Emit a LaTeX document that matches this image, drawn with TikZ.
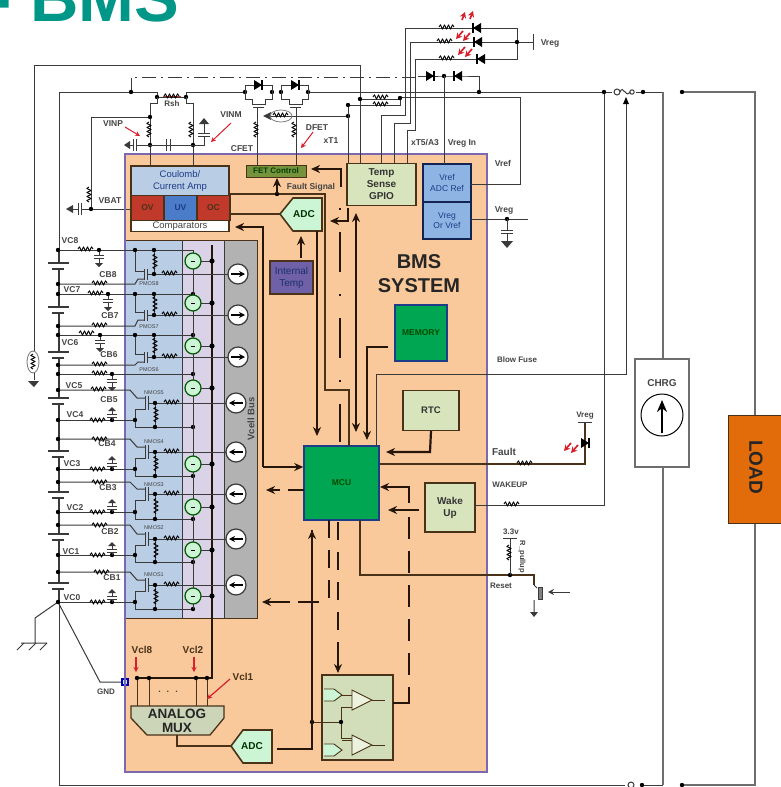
\documentclass[tikz,border=0pt]{standalone}
\usepackage{fontspec}
\setmainfont{Liberation Sans}
\usetikzlibrary{arrows.meta,calc}
\definecolor{orng}{HTML}{F9C89B}
\definecolor{purp}{HTML}{7B68B0}
\definecolor{wirec}{HTML}{3A3A3A}
\definecolor{grayw}{HTML}{6E6E6E}
\definecolor{brn}{HTML}{4A3218}
\definecolor{busc}{HTML}{26160A}
\definecolor{lt}{HTML}{B9CDE5}
\definecolor{lilac}{HTML}{DAD2E6}
\definecolor{gr}{HTML}{B2B2B2}
\definecolor{sage}{HTML}{D8E4BC}
\definecolor{mblue}{HTML}{8DB4E2}
\definecolor{grn}{HTML}{00A651}
\definecolor{navy}{HTML}{1F3C88}
\definecolor{redb}{HTML}{C0392B}
\definecolor{blub}{HTML}{4A7CC9}
\definecolor{mint}{HTML}{CCF5D6}
\definecolor{olive}{HTML}{76923C}
\definecolor{iviol}{HTML}{7060A8}
\definecolor{lab}{HTML}{444444}
\definecolor{teal}{HTML}{009688}
\definecolor{ledr}{HTML}{D8202C}
\definecolor{loadc}{HTML}{E36C0A}
\newcommand\fs[1]{\pgfmathsetmacro\fsskip{#1*1.2}\fontsize{#1}{\fsskip}\selectfont}
\tikzset{
 wire/.style={line width=1pt,draw=wirec},
 gwire/.style={line width=1.5pt,draw=grayw},
 bwire/.style={line width=1.1pt,draw=brn},
 bus/.style={line width=2.2pt,draw=busc},
 arr/.style={-{Stealth[length=9pt,width=8pt]}},
 arrb/.style={{Stealth[length=9pt,width=8pt]}-{Stealth[length=9pt,width=8pt]}},
 sm/.style={-{Stealth[length=6pt,width=6pt]}},
 rarr/.style={draw=ledr,line width=1pt,-{Stealth[length=5pt,width=5pt]}},
 larr/.style={draw=ledr,line width=1.7pt,-{Stealth[length=6pt,width=6.5pt]}},
 res/.style={line width=.9pt,draw=black,line join=round},
 lbl/.style={font=\bfseries\fs{8.5},text=lab,inner sep=0pt},
 blockn/.style={draw=brn,line width=1.3pt,inner sep=0pt,align=center},
 tinyl/.style={font=\fs{5.5},text=lab,inner sep=0pt},
}
\newcommand\ResH[2]{\draw[res] (#1,#2) ++(-8,0) -- ++(1.5,-2.2) -- ++(2,4.4) -- ++(2,-4.4) -- ++(2,4.4) -- ++(2,-4.4) -- ++(2,4.4) -- ++(2,-4.4) -- ++(1.5,2.2);}
\newcommand\ResV[2]{\draw[res] (#1,#2) ++(0,-8) -- ++(-2.2,1.5) -- ++(4.4,2) -- ++(-4.4,2) -- ++(4.4,2) -- ++(-4.4,2) -- ++(4.4,2) -- ++(-4.4,2) -- ++(2.2,1.5);}
\newcommand\Dt[2]{\fill[black] (#1,#2) circle (2.2pt);}
\newcommand\CapD[2]{\draw[wire] (#1,#2) -- ++(0,5) ++(-5,0) -- ++(10,0) ++(-10,3) -- ++(10,0) ++(-5,0) -- ++(0,5); \fill[wirec] (#1,#2) ++(-4,13) -- ++(8,0) -- ++(-4,4) -- cycle;}
\newcommand\CapU[2]{\draw[wire] (#1,#2) -- ++(0,-3) ++(-5,0) -- ++(10,0) ++(-10,-3) -- ++(10,0) ++(-5,0) -- ++(0,-3); \fill[wirec] (#1,#2) ++(-4,-9) -- ++(8,0) -- ++(-4,-4) -- cycle;}
\newcommand\DioL[2]{\fill[black] (#1,#2) ++(-4,0) -- ++(8,-5) -- ++(0,10) -- cycle; \draw[line width=1.3pt] (#1,#2) ++(-4,-5) -- ++(0,10);}
\newcommand\DioR[2]{\fill[black] (#1,#2) ++(4,0) -- ++(-8,-5) -- ++(0,10) -- cycle; \draw[line width=1.3pt] (#1,#2) ++(4,-5) -- ++(0,10);}
\newcommand\Leds[2]{\draw[larr] (#1,#2) ++(5,-5) -- ++(-7,8); \draw[larr] (#1,#2) ++(12,-3) -- ++(-7,8);}
\newcommand\LedsU[2]{\draw[larr] (#1,#2) ++(0,5) -- ++(3,-8); \draw[larr] (#1,#2) ++(8,4) -- ++(3,-8);}
\begin{document}
\begin{tikzpicture}[x=1pt,y=-1pt]
\useasboundingbox (0,0) rectangle (780,787);
\fill[white] (0,0) rectangle (780,787);
\begin{scope}
\clip (0,0) rectangle (780,787);
\node[anchor=base west,inner sep=0pt,text=teal,font=\bfseries\fs{67}] (title) at (-11,21) {- BMS};
\end{scope}

% ---------- main frame
\node[draw=purp,line width=1.4pt,fill=orng,inner sep=0pt,minimum width=362pt,minimum height=618pt] (bms) at (306,463) {};

% ---------- cell block
\fill[lt] (126,240) rectangle (182,618);
\fill[lilac] (182,240) rectangle (224,618);
\fill[gr] (224,240) rectangle (257,618);
\draw[brn,line width=1pt] (126,240) -- (257,240) -- (257,618) -- (126,618);
\draw[wirec,line width=.9pt] (182,240) -- (182,618) (224,240) -- (224,618);
\node[lbl,font=\bfseries\fs{9.5},rotate=90] (vcellbus) at (251,419) {Vcell Bus};

% ---------- blocks
\node[blockn,fill=lt,minimum width=98pt,minimum height=30pt,text=navy,font=\fs{9.5}] (coul) at (180,181) {Coulomb/\\Current Amp};
\node[blockn,fill=redb,minimum width=33pt,minimum height=25pt,text=brn,font=\bfseries\fs{8.5}] (ov) at (147.5,208) {OV};
\node[blockn,fill=blub,minimum width=33pt,minimum height=25pt,text=navy,font=\bfseries\fs{8.5}] (uv) at (180.5,208) {UV};
\node[blockn,fill=redb,minimum width=33pt,minimum height=25pt,text=brn,font=\bfseries\fs{8.5}] (oc) at (213.5,208) {OC};
\node[blockn,fill=white,minimum width=98pt,minimum height=11pt,text=lab,font=\fs{9.5}] (comps) at (180,226) {Comparators};
\node[draw=brn,line width=1pt,fill=olive,minimum width=60pt,minimum height=12pt,inner sep=0pt,text=green!25!black,font=\bfseries\fs{8}] (fetc) at (276,171) {FET Control};
\node[blockn,fill=sage,minimum width=69pt,minimum height=42pt,text=black!80,font=\bfseries\fs{10}] (temp) at (381.5,184.5) {Temp\\Sense\\GPIO};
\node[blockn,fill=mblue,minimum width=48pt,minimum height=38pt,text=navy,font=\fs{8.5},draw=navy!60!black] (vref) at (447,183) {Vref\\ADC Ref};
\node[blockn,fill=mblue,minimum width=48pt,minimum height=37pt,text=navy,font=\fs{8.5},draw=navy!60!black] (vreg) at (447,220.5) {Vreg\\Or Vref};
\node[blockn,fill=iviol,minimum width=43pt,minimum height=33pt,text=navy!80!black,font=\fs{10}] (itemp) at (291.5,277.5) {Internal\\Temp};
\node[draw=navy,line width=1.4pt,fill=grn,minimum width=52pt,minimum height=56pt,inner sep=0pt,text=green!30!black,font=\bfseries\fs{8.5}] (mem) at (421,333) {MEMORY};
\node[draw=navy,line width=1.6pt,fill=grn,minimum width=75pt,minimum height=74pt,inner sep=0pt,text=green!30!black,font=\bfseries\fs{8.5}] (mcu) at (341.5,483) {MCU};
\node[blockn,fill=sage,minimum width=56pt,minimum height=40pt,text=black!80,font=\bfseries\fs{9.5}] (rtc) at (431,410.5) {RTC};
\node[blockn,fill=sage,minimum width=50pt,minimum height=49pt,text=black!80,font=\bfseries\fs{10}] (wake) at (450,507.5) {Wake\\Up};
\node[inner sep=0pt,align=center,text=black!85,font=\bfseries\fs{20}] (sys) at (419,274) {BMS\\SYSTEM};

% ADC pentagons and mux
\draw[brn,line width=1.6pt,fill=mint] (280,214) -- (293,198) -- (322,198) -- (322,231) -- (293,231) -- cycle;
\node[inner sep=0pt,text=green!20!black,font=\bfseries\fs{10}] (adct) at (304,214) {ADC};
\draw[brn,line width=1.6pt,fill=mint] (231,746) -- (243,730) -- (272,730) -- (272,763) -- (243,763) -- cycle;
\node[inner sep=0pt,text=green!20!black,font=\bfseries\fs{10}] (adcb) at (252,746) {ADC};
\draw[brn,line width=1.3pt,fill=sage!70!gr] (131,706) -- (224,706) -- (224,718) -- (210,735) -- (147,735) -- (131,718) -- cycle;
\node[inner sep=0pt,align=center,text=black!85,font=\bfseries\fs{13.5}] (mux) at (177,721) {ANALOG\\[-2pt]MUX};

% comparator block
\node[blockn,fill=sage!85!gr,minimum width=71pt,minimum height=85pt] (cmpb) at (357.5,717.5) {};
\foreach \yy in {689,744}{
 \draw[brn,line width=.9pt,fill=mint] (324,\yy) -- (334,\yy) -- (342,\yy+6) -- (334,\yy+12) -- (324,\yy+12);
}
\foreach \yy in {700,745}{
 \draw[brn,line width=.9pt,fill=sage!50] (352,\yy-10) -- (352,\yy+10) -- (372,\yy) -- cycle;
 \draw[brn,line width=.9pt] (372,\yy) -- (385,\yy) (342,\yy-5) -- (352,\yy-5);
}
\draw[brn,line width=.9pt] (312,722) -- (341,722) (341,707) -- (341,738) (341,707) -- (352,707) (341,738) -- (352,738);
\Dt{341}{722}
\Dt{312}{722}

% ---------- external top wires
\draw[wire] (34,380) -- (34,65) -- (360,65) -- (360,163);
\draw[wire,dash pattern=on 14pt off 5pt on 2pt off 5pt] (131,92) -- (131,77) -- (418,77);
\draw[wire] (418,76) -- (458,76) -- (479,76) -- (479,91);
\draw[wire] (59,785) -- (59,92) -- (157,92) -- (157,97) (157,97) -- (186,97) -- (186,92) -- (245,92);
\draw[wire] (308,92) -- (604,92);
\draw[wire] (604,92) -- (612,92) (636,92) -- (663,92);
\draw[gwire] (663,92) -- (663,359) (663,467) -- (663,785);
\draw[gwire] (682,92) -- (755,92) -- (755,415) (755,523) -- (755,785) -- (682,785);
\draw[wire] (59,785) -- (625,785) (642,785) -- (663,785);
\draw[wire] (604,92) -- (604,505) -- (475,505);
\draw[wire] (376,446) -- (376,374) -- (626,374) -- (626,100);
\fill[black] (626,97) -- (623,104) -- (629,104) -- cycle;
\draw[wire,fill=white] (617,92) circle (3pt);
\draw[wire,fill=white] (632,92) circle (2.2pt);
\draw[wire] (620,92) .. controls (623,84) and (626,99) .. (630,92);
\draw[wire,fill=white] (631,785) circle (3pt);
\Dt{131}{92}\Dt{157}{97}\Dt{186}{97}\Dt{245}{92}\Dt{272}{92}\Dt{281}{92}\Dt{308}{92}\Dt{479}{92}\Dt{604}{92}\Dt{643}{92}\Dt{682}{92}\Dt{444}{76}\Dt{642}{785}\Dt{682}{785}
\DioR{430}{76}
\DioL{458}{76}

% shunt and amp inputs
\draw[draw=redb,line width=.8pt] (163,96) -- (181,96);
\ResH{172}{96}
\node[lbl,font=\bfseries\fs{8}] (rsh) at (172,104) {Rsh};
\draw[wire] (157,97) -- (157,103) -- (150,103) -- (150,166);
\draw[wire] (186,97) -- (186,103) -- (193,103) -- (193,166);
\ResV{149}{130}
\ResV{191}{130}
\draw[wire] (150,117) -- (91,117) -- (91,209) -- (131,209) (91,209) -- (82,209);
\Dt{150}{117}\Dt{150}{145}\Dt{193}{145}\Dt{91}{209}
\ResV{89}{195}
\draw[wire] (136,145) -- (204,145) -- (204,136);
\draw[wire] (166,139) -- (166,151) (170,139) -- (170,151);
\draw[wire] (198,136) -- (210,136) (198,133) -- (210,133) (204,133) -- (204,124);
\fill[wirec] (204,118) -- (199,124) -- (209,124) -- cycle;
\draw[wire] (136,139) -- (136,151) (133,139) -- (133,151) (133,145) -- (130,145);
\fill[wirec] (124,145) -- (130,141) -- (130,149) -- cycle;
\draw[wire] (81,203) -- (81,215) (78,203) -- (78,215) (78,209) -- (73,209);
\fill[wirec] (66,209) -- (73,205) -- (73,213) -- cycle;
\node[lbl] (vinp) at (113,124) {VINP};
\draw[rarr] (125,127) -- (140,136);
\node[lbl] (vinm) at (231,115) {VINM};
\draw[rarr] (231,123) -- (211,142);
\node[lbl] (vbat) at (110,201) {VBAT};
\node[lbl] (cfet) at (242,149) {CFET};
\node[lbl] (dfet) at (317,128) {DFET};
\draw[rarr] (313,132) -- (301,148);
\node[lbl] (xt1) at (331,141) {xT1};

% FET pair
\foreach \fl/\fr/\fm in {245/272/258,281/308/295}{
 \draw[wire] (\fl,92) -- (\fl,85) -- (\fr,85) -- (\fr,92);
 \DioR{\fm}{85}
 \draw[wire] (\fl,92) -- (\fl,99) -- (\fm-6,99) -- (\fm-6,104) -- (\fm+1,104);
 \draw[wire] (\fr,92) -- (\fr,99) -- (\fm+7,99) -- (\fm+7,104) -- (\fm+1,104);
 \draw[wire] (\fm-5,107) -- (\fm+6,107);
}
\draw[wire] (257,107) -- (257,165) (296,107) -- (296,165);
\ResV{256}{130}
\ResV{294}{130}
\draw[wire] (348,116) -- (271,116);
\fill[wirec] (263,116) -- (271,112) -- (271,120) -- cycle;
\ResH{281}{115}
\draw[gray,line width=.8pt] (281,116) ellipse (11pt and 6pt);
\Dt{348}{116}

% wires to temp block
\draw[wire] (348,163) -- (348,105) -- (400,105) -- (400,97) (360,99) -- (400,99) (400,97) -- (520,97) -- (520,184) -- (471,184);
\Dt{348}{105}\Dt{360}{99}\Dt{400}{98}
\ResH{381}{97}
\ResH{381}{104}
\draw[wire] (381,163) -- (381,115) -- (405,115) -- (405,28) -- (517,28) -- (517,59) -- (415,59) -- (415,130) -- (407,130) -- (407,163);
\draw[wire] (394,163) -- (394,123) -- (410,123) -- (410,42) -- (533,42);
\draw[wire] (533,34) -- (533,50);
\Dt{517}{42}
\ResH{447}{27}
\ResH{445}{41}
\ResH{447}{58}
\DioL{477}{28}
\DioL{478}{42}
\DioL{481}{59}
\LedsU{462}{15}
\Leds{458}{36}
\Leds{460}{52}
\node[lbl] (vreg1) at (550,43) {Vreg};
\draw[wire] (444,76) -- (444,164);
\node[lbl] (xt5) at (425,143) {xT5/A3};
\node[lbl] (vregin) at (462,143) {Vreg In};
\node[lbl] (vrefl) at (503,163) {Vref};
\draw[wire] (471,219) -- (528,219);
\node[lbl] (vreg2) at (504,210) {Vreg};
\Dt{507}{219}
\draw[wire] (507,219) -- (507,230) (501,230) -- (513,230) (501,233) -- (513,233) (507,233) -- (507,241);
\fill[wirec] (501,241) -- (513,241) -- (507,248) -- cycle;

% ---------- inner bus wires
\coordinate (fetin) at (311,169);
\coordinate (cmpin) at (235,227);
\draw[bwire] (229,194) -- (325,194) -- (325,390) -- (349,390) -- (349,446);
\draw[bwire] (229,214) -- (280,214);
\Dt{277}{194}
\draw[bus,arr,line width=1.4pt] (277,194) -- (277,178);
\node[lbl] (fsig) at (311,187) {Fault Signal};
\draw[bus,arr] (341,187) -- (341,169) -- (fetin);
\draw[bus,arr] (263,467) -- (263,227) -- (cmpin);
\draw[bus,arr] (263,467) -- (mcu.west |- 0,467);
\draw[bus,arr,line width=1.8pt] (301,258) -- (301,236);
\draw[bus,arr] (317,231) -- (317,436);
\draw[bus,arrb] (356,213) -- (356,432);
\draw[bus,dash pattern=on 40pt off 22pt on 2pt off 22pt] (340,232) -- (340,442);
\draw[bus,line width=1.5pt] (340,208) -- (340,209.5);
\draw[bus,arr] (348,208) -- (348,221) -- (330,221);
\draw[bus,arr] (388,347) -- (367,347) -- (367,440);
\draw[bus,arr] (rtc.south) -- (430,452) -- (386,452);
\draw[bus,arr] (419,510) -- (388,510);
\draw[bwire] (380,464) -- (585,464) -- (585,422);
\ResH{525}{463}
\DioR{585}{443}
\draw[wire] (578,422) -- (592,422);
\Leds{566}{448}
\node[lbl,font=\bfseries\fs{8}] (vreg3) at (585,416) {Vreg};
\node[lbl,font=\bfseries\fs{10}] (fault) at (504,452) {Fault};
\node[lbl,font=\bfseries\fs{8}] (wakel) at (510,485) {WAKEUP};
\node[lbl,font=\bfseries\fs{8}] (blow) at (517,360) {Blow Fuse};
\ResH{512}{504}
% reset
\draw[bwire] (360,520) -- (360,575) -- (534,575) -- (534,585);
\Dt{510}{575}
\draw[wire] (510,575) -- (510,538) (503,538) -- (517,538);
\ResV{509}{553}
\node[lbl,font=\bfseries\fs{8}] (v33) at (511,532) {3.3v};
\node[lbl,font=\bfseries\fs{7.5},rotate=-90] (rpu) at (522,557) {R\_pullup};
\node[lbl,font=\bfseries\fs{8}] (reset) at (501,586) {Reset};
\draw[wire] (534,585) -- (537,588) (534,600) -- (534,612);
\draw[draw=wirec,fill=gray,line width=.8pt] (538,587) rectangle (542,599);
\fill[wirec] (530,612) -- (538,612) -- (534,617) -- cycle;
\draw[wire,sm] (570,592) -- (548,592);
% dashed
\draw[bus,dash pattern=on 18pt off 12pt] (329,520) -- (329,602);
\draw[bus] (319,602) -- (298,602);
\draw[bus,arr] (290,602) -- (262,602);
\draw[bus,dash pattern=on 18pt off 12pt] (338,522) -- (338,655);
\draw[bus,arr] (338,650) -- (338,673);
\draw[bus,dash pattern=on 16pt off 9pt] (304,490) -- (286,490);
\draw[bus,arr] (280,490) -- (266,490);
\draw[bus,arr] (409,503) -- (409,487) -- (380,487);
\draw[bus,dash pattern=on 22pt off 12pt] (409,517) -- (409,703);
\draw[bus] (393,703) -- (410,703);
\draw[bus] (312,530) -- (312,749) -- (277,749);
\draw[bus,arr] (312,545) -- (312,530);
% mux bus
\draw[bus,line width=2.6pt] (212,245) -- (212,678) -- (136,678);
\foreach \xx in {137,149,196,207}{\draw[wire,draw=brn] (\xx,678) -- (\xx,706); \Dt{\xx}{678}}
\node[text=lab,font=\bfseries\fs{9},inner sep=0pt] (dots) at (168,692) {.\hspace{6pt}.\hspace{6pt}.};
\draw[bwire] (177,735) -- (177,746) -- (231,746);
\node[lbl,text=brn,font=\bfseries\fs{10}] (vcl8) at (142,650) {Vcl8};
\draw[rarr,line width=1.2pt] (136,657) -- (136,672);
\node[lbl,text=brn,font=\bfseries\fs{10}] (vcl2) at (193,650) {Vcl2};
\draw[rarr,line width=1.2pt] (194,657) -- (194,672);
\node[lbl,text=brn,font=\bfseries\fs{10}] (vcl1) at (243,677) {Vcl1};
\draw[rarr,line width=1.2pt] (230,679) -- (207,699);
% ground
\draw[wire] (58,602) -- (100,682) -- (122,682);
\draw[draw=blue!70!black,line width=1.2pt,fill=cyan!25] (122,679) rectangle (128,685);
\node[lbl,font=\bfseries\fs{8}] (gndl) at (106,692) {GND};
\draw[wire] (58,602) -- (35,618) -- (35,643) (21,643) -- (47,643);
\draw[wire] (24,643) -- (17,650) (36,643) -- (29,650) (47,643) -- (40,650);

% ---------- battery stack
\draw[wire] (58,250) -- (58,602);
\foreach \yy in {263,307,352,398,451,492,534,583}{
 \fill[white] (48,\yy+1) rectangle (68,\yy+5);
 \draw[line width=1.5pt,wirec] (48,\yy) -- (69,\yy);
 \draw[line width=1.5pt,wirec] (52,\yy+6) -- (64,\yy+6);
}
% thermistor
\draw[gray,line width=.9pt,fill=white] (33,362) ellipse (6pt and 11pt);
\ResV{33}{362}
\fill[wirec] (28,381) -- (39,381) -- (34,387) -- cycle;

% PMOS rows
\foreach \rt/\rg/\rb/\rn/\ry in {250/274/284/8/284,294/315/326/7/327,335/357/365/6/370}{
 \draw[wire] (58,\rt) -- (193,\rt);
 \draw[wire] (58,\rb) -- (135,\rb) -- (138,\rg+5) -- (144,\rg+5);
 \draw[wire] (135,\rt) -- (135,\rg-3) -- (144,\rg-3) (144,\rg-5) -- (144,\rg+6) (147,\rg-5) -- (147,\rg+6) (147,\rg) -- (228,\rg);
 \draw[wire] (154,\rt) -- (154,\rg);
 \ResV{155}{\rt/2+\rg/2}
 \ResH{170}{\rg-1}
 \Dt{58}{\rt}\Dt{58}{\rb}\Dt{135}{\rt}\Dt{154}{\rt}\Dt{154}{\rg}
 \node[tinyl] (pm\rn) at (149,\ry) {PMOS\rn};
}
\draw[wire] (58,374) -- (193,374);
\Dt{58}{374}
% NMOS rows
\foreach \ra/\rg/\rv/\rn in {390/403/420/5,439/452/469/4,482/494/512/3,525/539/555/2,572/585/602/1}{
 \draw[wire] (58,\ra) -- (130,\ra) -- (137,\rg-5) -- (145,\rg-5);
 \draw[wire] (58,\rv) -- (135,\rv) -- (135,\rv+7) -- (193,\rv+7);
 \draw[wire] (135,\rv) -- (135,\rg+6) -- (145,\rg+6) (145,\rg-7) -- (145,\rg+7) (148,\rg-7) -- (148,\rg+7) (148,\rg) -- (226,\rg);
 \draw[wire] (155,\rg) -- (155,\rv+7);
 \ResV{156}{\rg/2+\rv/2+3.5}
 \ResH{172}{\rg-1}
 \Dt{58}{\ra}\Dt{58}{\rv}\Dt{135}{\rv}\Dt{155}{\rg}\Dt{155}{\rv+7}\Dt{193}{\rv+7}\Dt{112}{\rv}
 \CapU{112}{\rv}
 \node[tinyl] (nm\rn) at (154,\ra+3) {NMOS\rn};
}
% row resistors
\foreach \xx/\yy in {86/249,100/283,96/293,100/325,87/333,100/364,100/373,99/389,98/420,100/439,98/469,100/482,98/512,100/525,98/555,102/572,98/602}{\ResH{\xx}{\yy}}
\CapD{99}{250}\CapD{108}{294}\CapD{100}{335}\CapD{112}{374}
\Dt{99}{250}\Dt{108}{294}\Dt{100}{335}\Dt{112}{374}
\Dt{193}{294}\Dt{193}{335}\Dt{193}{374}
% row labels
\foreach \xx/\yy/\tx in {70/241/VC8,108/275/CB8,72/290/VC7,110/316/CB7,70/343/VC6,109/355/CB6,74/386/VC5,109/400/CB5,75/415/VC4,107/444/CB4,72/464/VC3,108/488/CB3,75/508/VC2,110/532/CB2,71/552/VC1,112/578/CB1,72/598/VC0}{
 \node[lbl] (r\tx) at (\xx,\yy) {\tx};
}
% sense line and green circles
\draw[wire] (193,250) -- (193,609);
\foreach \yy in {261,303,346,388,464,507,550,596}{
 \draw[wire] (193,\yy) -- (212,\yy);
 \draw[draw=green!35!black,line width=1.2pt,fill=mint] (193,\yy) circle (8pt);
 \draw[line width=1pt] (191,\yy) -- (195,\yy);
 \fill[black] (212,\yy) circle (2.6pt);
}
% white bus circles
\foreach \yy in {274,315,357}{
 \draw[wirec,line width=1.2pt,fill=white] (238,\yy) circle (10pt);
 \draw[black,line width=1.2pt,sm] (231,\yy) -- (245,\yy);
}
\foreach \yy in {403,452,494,539,585}{
 \draw[wirec,line width=1.2pt,fill=white] (236,\yy) circle (10pt);
 \draw[black,line width=1.2pt,sm] (243,\yy) -- (229,\yy);
}
\draw[purp,line width=1.4pt] (125,154) -- (125,240) (125,618) -- (125,772);

% ---------- CHRG and LOAD
\node[draw=grayw,line width=1.4pt,fill=white,minimum width=54pt,minimum height=108pt,inner sep=0pt] (chrg) at (662,413) {};
\node[lbl,font=\bfseries\fs{10}] (chrgt) at (662,383) {CHRG};
\draw[black,line width=1pt] (662,415) circle (21pt);
\draw[black,line width=2.2pt,-{Stealth[length=12pt,width=10pt]}] (662,433) -- (662,400);
\node[draw=brn,line width=1pt,fill=loadc,minimum width=56pt,minimum height=108pt,inner sep=0pt] (load) at (756,469) {};
\node[rotate=-90,text=black!85,font=\bfseries\fs{19},inner sep=0pt] (loadt) at (756,467) {LOAD};
\end{tikzpicture}
\end{document}
